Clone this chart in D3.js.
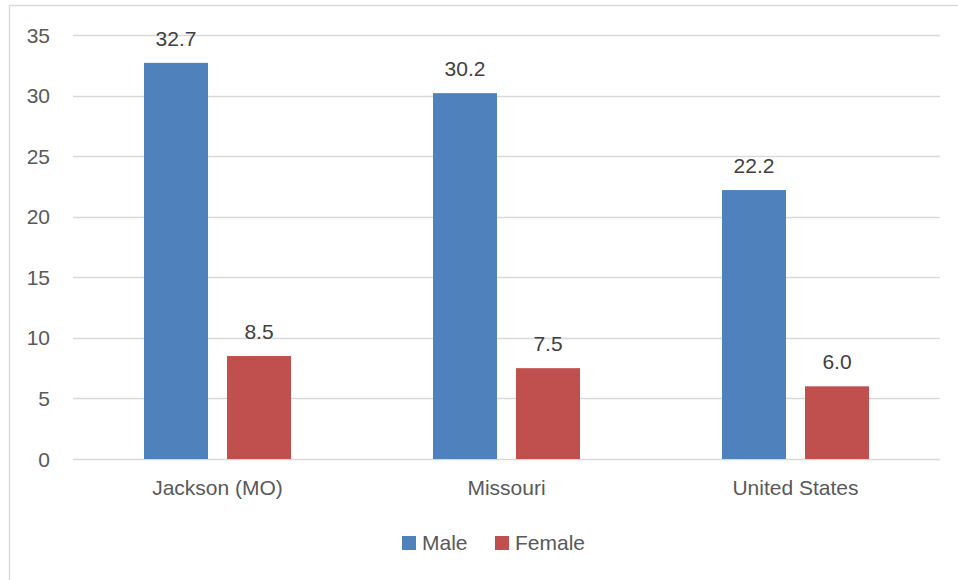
<!DOCTYPE html>
<html>
<head>
<meta charset="utf-8">
<script src="https://cdn.jsdelivr.net/npm/d3@7"></script>
<style>
  html, body { margin: 0; padding: 0; background: #fff; }
  svg { display: block; }
  text { font-family: "Liberation Sans", Arial, sans-serif; }
</style>
</head>
<body>
<svg id="chart" width="958" height="580"></svg>
<script>
const categories = ["Jackson (MO)", "Missouri", "United States"];
const seriesNames = ["Male", "Female"];
const maleValues = [32.7, 30.2, 22.2];
const femaleValues = [8.5, 7.5, 6.0];
const yTicks = [0, 5, 10, 15, 20, 25, 30, 35];
const seriesColors = ["#4F81BD", "#C0504D"];

const seriesValues = [maleValues, femaleValues];
const svg = d3.select("#chart");
const plot = { left: 73, right: 940, top: 35, bottom: 459 };
const FS = 21;

// outer border
svg.append("rect")
  .attr("x", 9.5).attr("y", 5.5)
  .attr("width", 980).attr("height", 620)
  .attr("fill", "#fff").attr("stroke", "#d9d9d9").attr("stroke-width", 1.5);

const y = d3.scaleLinear().domain([0, 35]).range([plot.bottom, plot.top]);
const x0 = d3.scaleBand().domain(categories).range([plot.left, plot.right]).paddingInner(0).paddingOuter(0);
const groupWidth = 147;
const x1 = d3.scaleBand().domain(seriesNames).range([-groupWidth / 2, groupWidth / 2]).paddingInner(0.229).paddingOuter(0);

// gridlines
svg.append("g").selectAll("line").data(yTicks).join("line")
  .attr("x1", plot.left).attr("x2", plot.right)
  .attr("y1", d => Math.round(y(d)) + 0.5).attr("y2", d => Math.round(y(d)) + 0.5)
  .attr("stroke", "#d9d9d9").attr("stroke-width", 1.3);

// y axis labels
svg.append("g").selectAll("text").data(yTicks).join("text")
  .attr("x", 50).attr("y", d => y(d)).attr("dy", "0.36em")
  .attr("text-anchor", "end")
  .attr("font-size", FS).attr("fill", "#595959")
  .text(d => d);

// bars
const groups = svg.append("g").selectAll("g").data(categories).join("g")
  .attr("transform", d => `translate(${x0(d) + x0.bandwidth() / 2},0)`);

groups.each(function (cat, ci) {
  const g = d3.select(this);
  seriesNames.forEach((s, si) => {
    const v = seriesValues[si][ci];
    g.append("rect")
      .attr("x", x1(s)).attr("y", y(v))
      .attr("width", x1.bandwidth()).attr("height", y(0) - y(v))
      .attr("fill", seriesColors[si]);
    g.append("text")
      .attr("x", x1(s) + x1.bandwidth() / 2).attr("y", y(v) - 17)
      .attr("text-anchor", "middle")
      .attr("font-size", FS).attr("fill", "#404040")
      .text(d3.format(".1f")(v));
  });
});

// x category labels
svg.append("g").selectAll("text").data(categories).join("text")
  .attr("x", d => x0(d) + x0.bandwidth() / 2).attr("y", 495)
  .attr("text-anchor", "middle")
  .attr("font-size", FS).attr("fill", "#595959")
  .text(d => d);

// legend
const legendX = [402, 495];
const legend = svg.append("g").selectAll("g").data(seriesNames).join("g")
  .attr("transform", (d, i) => `translate(${legendX[i]},536)`);
legend.append("rect").attr("width", 14).attr("height", 14)
  .attr("fill", (d, i) => seriesColors[i]);
legend.append("text").attr("x", 20).attr("y", 14)
  .attr("font-size", FS).attr("fill", "#595959")
  .text(d => d);
</script>
</body>
</html>
